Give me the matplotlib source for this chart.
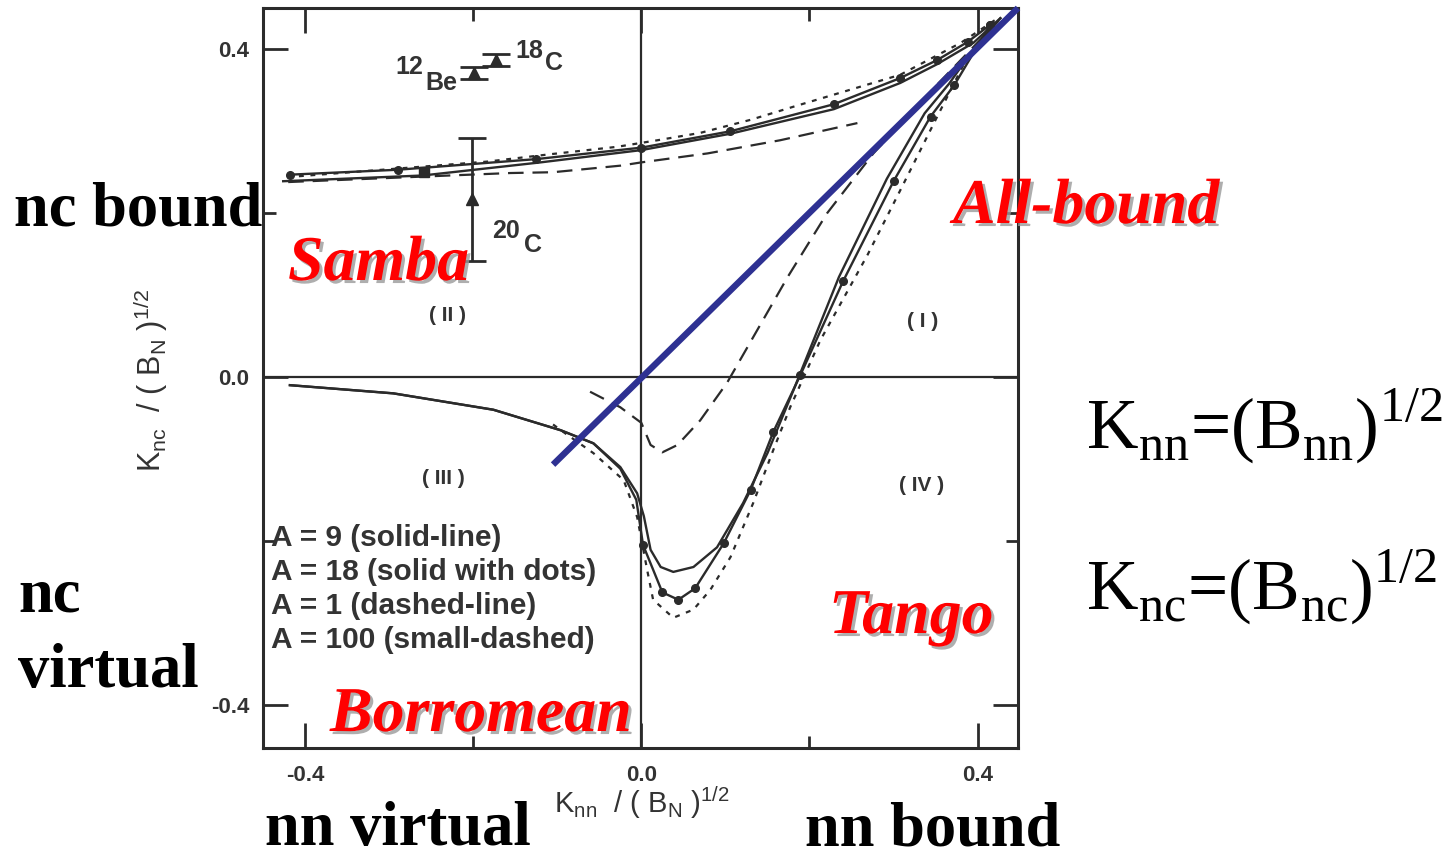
import matplotlib
matplotlib.use('Agg')
import matplotlib.pyplot as plt
import matplotlib.patheffects as pe

# upper branch (regions II / I), one array pair per A value
a9_up_x = [-0.426, -0.26, -0.12, 0.0, 0.106, 0.229, 0.308, 0.352, 0.395, 0.427]
a9_up_y = [0.239, 0.246, 0.262, 0.277, 0.297, 0.327, 0.359, 0.382, 0.408, 0.438]
a18_up_x = [-0.418, -0.29, -0.125, 0.0, 0.106, 0.229, 0.308, 0.352, 0.388, 0.415]
a18_up_y = [0.247, 0.253, 0.266, 0.280, 0.300, 0.333, 0.365, 0.387, 0.409, 0.430]
a1_up_x = [-0.42, -0.156, -0.105, -0.025, 0.0, 0.079, 0.165, 0.257]
a1_up_y = [0.238, 0.249, 0.250, 0.258, 0.262, 0.273, 0.289, 0.310]
a100_up_x = [-0.421, -0.183, -0.108, -0.029, 0.019, 0.070, 0.130, 0.181, 0.308, 0.380, 0.421]
a100_up_y = [0.244, 0.263, 0.272, 0.281, 0.289, 0.298, 0.314, 0.330, 0.369, 0.408, 0.436]

# lower branch (regions III / IV / I)
a9_lo_x = [-0.418, -0.295, -0.176, -0.096, -0.057, -0.025, -0.005, 0.003, 0.011, 0.023,
           0.038, 0.062, 0.090, 0.121, 0.150, 0.181, 0.235, 0.292, 0.337, 0.366, 0.395, 0.427]
a9_lo_y = [-0.010, -0.020, -0.040, -0.065, -0.081, -0.110, -0.142, -0.170, -0.211, -0.232,
           -0.238, -0.232, -0.208, -0.154, -0.093, -0.016, 0.122, 0.242, 0.322, 0.358, 0.400, 0.438]
a18_lo_x = [-0.418, -0.295, -0.176, -0.096, -0.057, -0.025, -0.006, 0.002, 0.025, 0.044,
            0.064, 0.098, 0.130, 0.157, 0.189, 0.240, 0.300, 0.344, 0.372, 0.415]
a18_lo_y = [-0.010, -0.020, -0.040, -0.065, -0.081, -0.112, -0.150, -0.205, -0.263, -0.272,
            -0.258, -0.203, -0.138, -0.067, 0.002, 0.117, 0.239, 0.318, 0.356, 0.430]
a1_lo_x = [-0.061, -0.025, 0.0, 0.011, 0.025, 0.043, 0.070, 0.102, 0.174, 0.221, 0.276, 0.350, 0.425]
a1_lo_y = [-0.018, -0.037, -0.056, -0.083, -0.092, -0.083, -0.053, -0.007, 0.122, 0.200, 0.273, 0.355, 0.435]
a100_lo_x = [-0.105, -0.093, -0.057, -0.021, -0.005, 0.007, 0.014, 0.038, 0.062, 0.082, 0.106,
             0.133, 0.157, 0.177, 0.213, 0.269, 0.308, 0.350, 0.386, 0.421]
a100_lo_y = [-0.058, -0.067, -0.093, -0.126, -0.171, -0.236, -0.272, -0.294, -0.284, -0.260, -0.220,
             -0.154, -0.089, -0.037, 0.045, 0.149, 0.228, 0.314, 0.387, 0.433]

# measured nuclei
nuc_x = [-0.199, -0.173, -0.202]
nuc_y = [0.371, 0.387, 0.217]
nuc_err = [0.007, 0.007, 0.075]

# K_nn = K_nc diagonal
diag_x = [-0.105, 0.448]
diag_y = [-0.107, 0.4505]

legend_lines = ['A = 9 (solid-line)', 'A = 18 (solid with dots)',
                'A = 1 (dashed-line)', 'A = 100 (small-dashed)']

ink = '#2b2b2b'
W, H = 1454, 857


def fp(x, y):
    # pixel position -> figure fraction
    return x / W, 1 - y / H


fig = plt.figure(figsize=(W / 100, H / 100), dpi=100)
ax = fig.add_axes([263 / W, 1 - 748 / H, 755 / W, 740 / H])
ax.set_xlim(-0.45, 0.448)
ax.set_ylim(-0.453, 0.4505)

ax.axhline(0, color=ink, lw=1.6, zorder=1)
ax.axvline(0, color=ink, lw=1.6, zorder=1)

lw = 1.7
ax.plot(a9_up_x, a9_up_y, color=ink, lw=lw)
ax.plot(a18_up_x, a18_up_y, color=ink, lw=lw, marker='o', ms=5.5)
ax.plot(a1_up_x, a1_up_y, color=ink, lw=1.6, ls=(0, (7, 4)))
ax.plot(a100_up_x, a100_up_y, color=ink, lw=1.6, ls=(0, (2.2, 3)))
ax.plot([-0.259], [0.250], color=ink, marker='s', ms=7, ls='none')

ax.plot(a9_lo_x, a9_lo_y, color=ink, lw=lw)
ax.plot(a18_lo_x, a18_lo_y, color=ink, lw=lw, marker='o', ms=5.5, markevery=slice(7, None))
ax.plot(a1_lo_x, a1_lo_y, color=ink, lw=1.6, ls=(0, (7, 4)))
ax.plot(a100_lo_x, a100_lo_y, color=ink, lw=1.6, ls=(0, (2.2, 3)))

ax.errorbar(nuc_x, nuc_y, yerr=nuc_err, fmt='^', ms=8, color=ink,
            capsize=10, capthick=2, elinewidth=2)

ax.plot(diag_x, diag_y, color='#2e3192', lw=4.6, solid_capstyle='butt', zorder=6, clip_on=False)

# frame and ticks
for s in ax.spines.values():
    s.set_linewidth(2.2)
    s.set_color(ink)
ax.set_xticks([-0.4, 0.0, 0.4])
ax.set_xticklabels(['-0.4', '0.0', '0.4'])
ax.set_yticks([-0.4, 0.0, 0.4])
ax.set_yticklabels(['-0.4', '0.0', '0.4'])
ax.set_xticks([-0.2, 0.2], minor=True)
ax.set_yticks([-0.2, 0.2], minor=True)
ax.tick_params(which='both', direction='in', top=True, right=True, color=ink, width=2)
ax.tick_params(which='major', length=18)
ax.tick_params(which='minor', length=9)
ax.tick_params(axis='x', pad=12)
ax.tick_params(axis='y', pad=10)
for t in ax.get_xticklabels() + ax.get_yticklabels():
    t.set_fontfamily('Liberation Sans')
    t.set_fontweight('bold')
    t.set_fontsize(16)
    t.set_color('#333333')

sans = dict(family='Liberation Sans', color='#333333')

# nucleus labels
ax.text(-0.292, 0.370, '12', fontsize=18, ha='left', va='baseline', weight='bold', **sans)
ax.text(-0.257, 0.350, 'Be', fontsize=18, ha='left', va='baseline', weight='bold', **sans)
ax.text(-0.150, 0.390, '18', fontsize=18, ha='left', va='baseline', weight='bold', **sans)
ax.text(-0.114, 0.375, 'C', fontsize=18, ha='left', va='baseline', weight='bold', **sans)
ax.text(-0.178, 0.170, '20', fontsize=18, ha='left', va='baseline', weight='bold', **sans)
ax.text(-0.140, 0.153, 'C', fontsize=18, ha='left', va='baseline', weight='bold', **sans)

# quadrant numbers
ax.text(-0.23, 0.075, '( II )', fontsize=15, ha='center', va='center', weight='bold', **sans)
ax.text(0.335, 0.068, '( I )', fontsize=15, ha='center', va='center', weight='bold', **sans)
ax.text(-0.235, -0.124, '( III )', fontsize=15, ha='center', va='center', weight='bold', **sans)
ax.text(0.333, -0.132, '( IV )', fontsize=15, ha='center', va='center', weight='bold', **sans)

# curve key
for i, line in enumerate(legend_lines):
    ax.text(-0.44, -0.197 - i * 0.0415, line, fontsize=21.5, ha='left', va='center',
            weight='bold', **sans)

# axis titles
fig.text(*fp(642, 803), r'K$_\mathregular{nn}$  / ( B$_\mathregular{N}$ )$^\mathregular{1/ 2}$',
         fontsize=21, ha='center', va='center', **sans)
fig.text(*fp(150, 380), r'K$_\mathregular{nc}$  / ( B$_\mathregular{N}$ )$^\mathregular{1/ 2}$',
         fontsize=22, ha='center', va='center', rotation=90, **sans)

# region names
shadow = [pe.withSimplePatchShadow(offset=(2.2, -2.2), shadow_rgbFace='#9a9a9a', alpha=0.8)]
red = dict(family='Liberation Serif', weight='bold', style='italic', color='#ff0000',
           fontsize=46, ha='left', va='baseline', path_effects=shadow)
fig.text(*fp(288, 280), 'Samba', **red)
fig.text(*fp(953, 223), 'All-bound', **red)
fig.text(*fp(829, 633), 'Tango', **red)
fig.text(*fp(330, 731), 'Borromean', **red)

# bound / virtual labels
blk = dict(family='Liberation Serif', weight='bold', color='black', fontsize=45,
           ha='left', va='baseline')
fig.text(*fp(14, 226), 'nc bound', **blk)
fig.text(*fp(18, 612), 'nc', **blk)
fig.text(*fp(18, 687), 'virtual', **blk)
fig.text(*fp(265, 845), 'nn virtual', **blk)
fig.text(*fp(805, 845), 'nn bound', **blk)

# definitions
frm = dict(family='Liberation Serif', color='black', fontsize=51.5, ha='left', va='baseline')
fig.text(*fp(1086, 449), r'K$_\mathregular{nn}$=(B$_\mathregular{nn}$)$^\mathregular{1/2}$', **frm)
fig.text(*fp(1086, 610), r'K$_\mathregular{nc}$=(B$_\mathregular{nc}$)$^\mathregular{1/2}$', **frm)

fig.savefig('out.png', dpi=100)
